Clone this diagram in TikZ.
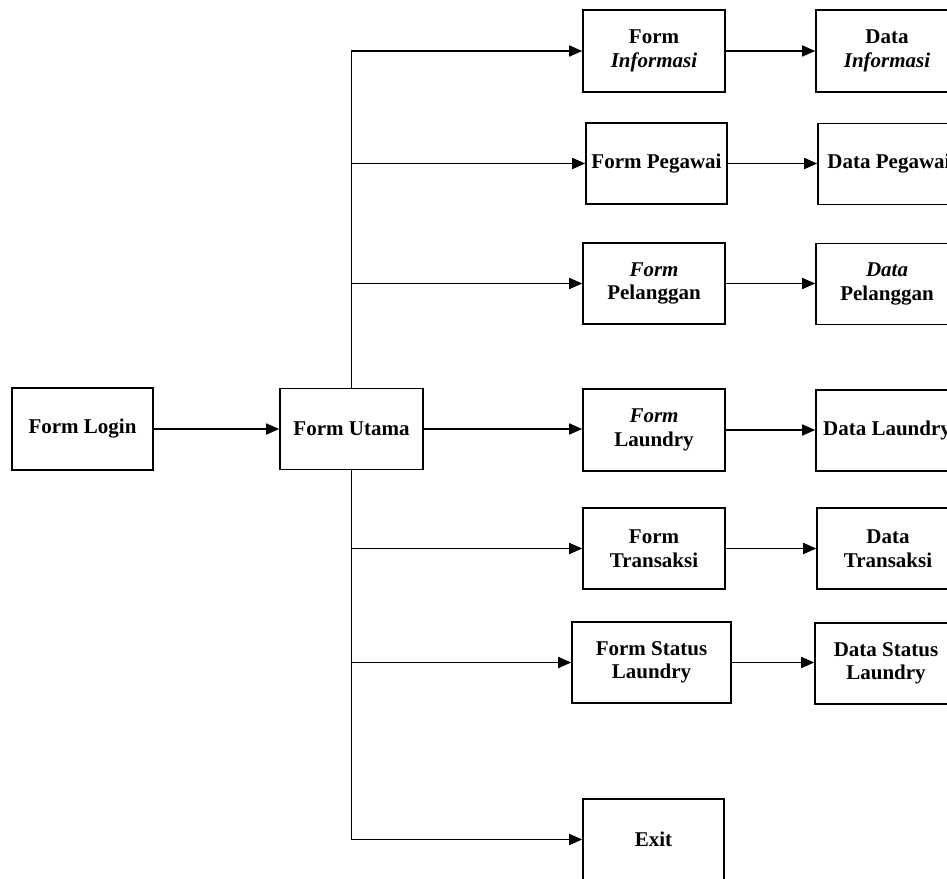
\documentclass[tikz,border=0pt]{standalone}
\usepackage{fontspec}
\setmainfont{Liberation Serif}
\usetikzlibrary{arrows.meta}
\begin{document}
\begin{tikzpicture}[x=1pt,y=-1pt,
  box/.style={draw=black, line width=1.6pt, rectangle, inner sep=0pt,
    minimum width=142pt, minimum height=81pt, align=center,
    font=\fontsize{21}{23.5}\selectfont\bfseries},
  arr/.style={draw=black, line width=1.6pt, -{Triangle[length=13pt,width=11pt]}},
  bus/.style={draw=black, line width=1.6pt}]
\useasboundingbox (0,0) rectangle (947,878);
\node[box, minimum width=141pt, minimum height=82pt] (login) at (82.5,429) {Form Login};
\node[box, minimum width=143pt] (utama) at (351.5,429) {Form Utama};
\node[box, minimum height=82pt] (finfo) at (654,51) {Form\\\itshape Informasi};
\node[box, minimum height=82pt] (dinfo) at (887,51) {Data\\\itshape Informasi};
\node[box, minimum width=141pt] (fpeg) at (656.5,163.5) {Form Pegawai};
\node[box] (dpeg) at (889,164) {Data Pegawai};
\node[box] (fpel) at (654,283.5) {\itshape Form\\Pelanggan};
\node[box] (dpel) at (887,284) {\itshape Data\\Pelanggan};
\node[box, minimum height=82pt] (flau) at (654,430) {\itshape Form\\\upshape Laundry};
\node[box] (dlau) at (887,430.5) {Data Laundry};
\node[box] (ftra) at (654,548.5) {Form\\Transaksi};
\node[box] (dtra) at (888,548.5) {Data\\Transaksi};
\node[box, minimum width=159pt] (fsta) at (651.5,662.5) {Form Status\\Laundry};
\node[box] (dsta) at (886,663.5) {Data Status\\Laundry};
\node[box, minimum width=141pt] (exit) at (653.5,839.5) {Exit};
% login to utama
\draw[arr] (login.east) -- (utama.west);
% bus branches
\draw[arr] (utama.north) |- (finfo.west);
\draw[arr] (utama.north) |- (fpeg.west);
\draw[arr] (utama.north) |- (fpel.west);
\draw[arr] (utama.east) -- (utama.east -| flau.west);
\draw[arr] (utama.south) |- (ftra.west);
\draw[arr] (utama.south) |- (fsta.west);
\draw[arr] (utama.south) |- (exit.west);
% form to data
\draw[arr] (finfo.east) -- (finfo.east -| dinfo.west);
\draw[arr] (fpeg.east) -- (fpeg.east -| dpeg.west);
\draw[arr] (fpel.east) -- (fpel.east -| dpel.west);
\draw[arr] (flau.east) -- (flau.east -| dlau.west);
\draw[arr] (ftra.east) -- (ftra.east -| dtra.west);
\draw[arr] (fsta.east) -- (fsta.east -| dsta.west);
\end{tikzpicture}
\end{document}
